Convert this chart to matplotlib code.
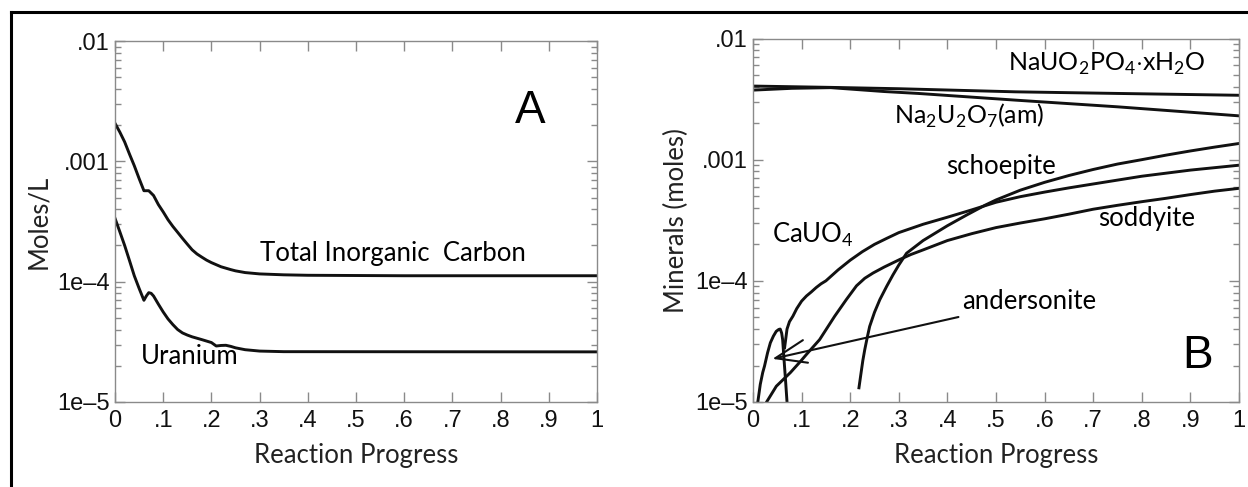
import matplotlib
matplotlib.use("Agg")
import matplotlib.pyplot as plt
from matplotlib.ticker import LogLocator, FixedLocator, NullFormatter
from matplotlib.lines import Line2D

plt.rcParams['mathtext.fontset'] = 'custom'
plt.rcParams['mathtext.rm'] = 'Lato'

# ---------------- Data: panel A ----------------
tic_x = [0, 0.01, 0.02, 0.03, 0.04, 0.05, 0.06, 0.07, 0.08, 0.09, 0.10, 0.11, 0.12, 0.13, 0.14, 0.15,
         0.16, 0.17, 0.18, 0.19, 0.20, 0.22, 0.24, 0.25, 0.27, 0.30, 0.35, 0.40, 0.60, 1.0]
tic_y = [2.07e-3, 1.75e-3, 1.45e-3, 1.15e-3, 9.2e-4, 7.2e-4, 5.7e-4, 5.7e-4, 5.2e-4, 4.37e-4, 3.8e-4,
         3.27e-4, 2.88e-4, 2.57e-4, 2.29e-4, 2.05e-4, 1.84e-4, 1.70e-4, 1.60e-4, 1.51e-4, 1.44e-4,
         1.33e-4, 1.26e-4, 1.23e-4, 1.19e-4, 1.16e-4, 1.14e-4, 1.13e-4, 1.12e-4, 1.12e-4]

u_x = [0, 0.01, 0.02, 0.03, 0.04, 0.05, 0.06, 0.065, 0.07, 0.075, 0.08, 0.09, 0.10, 0.11, 0.12, 0.13,
       0.14, 0.15, 0.16, 0.18, 0.20, 0.21, 0.22, 0.23, 0.24, 0.25, 0.27, 0.30, 0.35, 1.0]
u_y = [3.36e-4, 2.6e-4, 2.0e-4, 1.5e-4, 1.12e-4, 8.8e-5, 7.0e-5, 7.6e-5, 8.1e-5, 8.0e-5, 7.6e-5, 6.5e-5,
       5.6e-5, 4.9e-5, 4.4e-5, 4.0e-5, 3.75e-5, 3.6e-5, 3.48e-5, 3.3e-5, 3.12e-5, 2.92e-5, 2.95e-5,
       2.96e-5, 2.9e-5, 2.82e-5, 2.72e-5, 2.65e-5, 2.62e-5, 2.61e-5]

# ---------------- Data: panel B ----------------
naup_x = [0, 0.08, 0.16, 0.30, 0.54, 0.75, 1.0]
naup_y = [4.05e-3, 4.0e-3, 3.95e-3, 3.85e-3, 3.63e-3, 3.52e-3, 3.4e-3]

nau_x = [0, 0.08, 0.16, 0.27, 0.34, 0.54, 0.75, 1.0]
nau_y = [3.75e-3, 3.88e-3, 3.93e-3, 3.65e-3, 3.52e-3, 3.1e-3, 2.73e-3, 2.3e-3]

cau_x = [0.065, 0.07, 0.075, 0.082, 0.09, 0.10, 0.11, 0.12, 0.13, 0.14, 0.15, 0.175, 0.20, 0.225, 0.25,
         0.275, 0.30, 0.35, 0.40, 0.45, 0.50, 0.55, 0.60, 0.65, 0.70, 0.80, 0.90, 1.0]
cau_y = [2.8e-5, 4.0e-5, 4.6e-5, 5.1e-5, 5.9e-5, 6.8e-5, 7.5e-5, 8.1e-5, 8.8e-5, 9.45e-5, 1.0e-4, 1.23e-4,
         1.48e-4, 1.74e-4, 2.0e-4, 2.24e-4, 2.5e-4, 2.93e-4, 3.35e-4, 3.85e-4, 4.45e-4, 4.95e-4, 5.4e-4,
         5.85e-4, 6.3e-4, 7.3e-4, 8.2e-4, 9.0e-4]

sod_x = [0.028, 0.048, 0.077, 0.098, 0.11, 0.137, 0.168, 0.192, 0.213, 0.23, 0.247, 0.27, 0.302, 0.325,
         0.35, 0.40, 0.45, 0.50, 0.55, 0.60, 0.65, 0.70, 0.75, 0.80, 0.85, 0.90, 0.95, 1.0]
sod_y = [1.0e-5, 1.35e-5, 1.75e-5, 2.17e-5, 2.47e-5, 3.27e-5, 5.1e-5, 7.0e-5, 9.1e-5, 1.05e-4, 1.16e-4,
         1.3e-4, 1.5e-4, 1.65e-4, 1.8e-4, 2.15e-4, 2.45e-4, 2.75e-4, 3.0e-4, 3.25e-4, 3.55e-4, 3.9e-4,
         4.2e-4, 4.5e-4, 4.8e-4, 5.15e-4, 5.5e-4, 5.8e-4]

sch_x = [0.218, 0.222, 0.226, 0.23, 0.235, 0.24, 0.25, 0.261, 0.275, 0.288, 0.30, 0.316, 0.35, 0.40,
         0.44, 0.477, 0.50, 0.55, 0.60, 0.65, 0.70, 0.75, 0.80, 0.85, 0.90, 0.95, 1.0]
sch_y = [1.31e-5, 1.7e-5, 2.2e-5, 2.71e-5, 3.4e-5, 4.2e-5, 5.5e-5, 7.0e-5, 9.0e-5, 1.12e-4, 1.35e-4,
         1.69e-4, 2.15e-4, 2.85e-4, 3.5e-4, 4.2e-4, 4.65e-4, 5.6e-4, 6.5e-4, 7.4e-4, 8.3e-4, 9.2e-4,
         1.0e-3, 1.09e-3, 1.18e-3, 1.27e-3, 1.36e-3]

and_x = [0.0099, 0.015, 0.02, 0.0237, 0.03, 0.0357, 0.042, 0.0478, 0.053, 0.056, 0.059, 0.061, 0.064,
         0.067, 0.070]
and_y = [1.0e-5, 1.4e-5, 1.75e-5, 1.98e-5, 2.55e-5, 3.08e-5, 3.5e-5, 3.83e-5, 3.97e-5, 4.0e-5, 3.7e-5,
         3.27e-5, 2.2e-5, 1.5e-5, 1.0e-5]

x_ticks = [0, 0.1, 0.2, 0.3, 0.4, 0.5, 0.6, 0.7, 0.8, 0.9, 1.0]
x_ticklabels = ['0', '.1', '.2', '.3', '.4', '.5', '.6', '.7', '.8', '.9', '1']
y_ticks = [1e-5, 1e-4, 1e-3, 1e-2]
y_ticklabels = ['1e\u20135', '1e\u20134', '.001', '.01']

# ---------------- Figure ----------------
W, H = 1248, 487
fig = plt.figure(figsize=(W / 100, H / 100), dpi=100)

tick_font = dict(family='Liberation Sans', size=17)
label_font = 'Lato'
txt_size = 18.5
grey = '#8a8a8a'
ink = '#111111'
lw = 2.1


def style_axes(ax):
    ax.set_yscale('log')
    ax.set_xlim(0, 1)
    ax.set_ylim(1e-5, 1e-2)
    ax.xaxis.set_major_locator(FixedLocator(x_ticks))
    ax.set_xticklabels(x_ticklabels, fontdict=tick_font)
    ax.yaxis.set_major_locator(FixedLocator(y_ticks))
    ax.set_yticklabels(y_ticklabels, fontdict=tick_font)
    ax.yaxis.set_minor_locator(LogLocator(base=10, subs=[2, 3, 4, 5, 6, 7, 8, 9]))
    ax.yaxis.set_minor_formatter(NullFormatter())
    ax.tick_params(which='both', direction='in', top=True, right=True, color=grey, width=1)
    ax.tick_params(which='major', length=7, labelcolor=ink)
    ax.tick_params(axis='x', which='major', pad=6)
    ax.tick_params(axis='y', which='major', pad=4)
    ax.tick_params(which='minor', length=4)
    for s in ax.spines.values():
        s.set_color(grey)
        s.set_linewidth(1.0)
    ax.set_xlabel('Reaction Progress', family=label_font, fontsize=txt_size, labelpad=8, color='#222222')


axA = fig.add_axes([115 / W, 1 - 402 / H, 482 / W, 361 / H])
style_axes(axA)
axA.plot(tic_x, tic_y, color=ink, lw=lw)
axA.plot(u_x, u_y, color=ink, lw=lw)
axA.set_ylabel('Moles/L', family=label_font, fontsize=txt_size, labelpad=4, color='#222222')
axA.text(0.30, 1.7e-4, 'Total Inorganic  Carbon', family=label_font, fontsize=txt_size, ha='left', va='center')
axA.text(0.054, 2.4e-5, 'Uranium', family=label_font, fontsize=txt_size, ha='left', va='center')
axA.text(0.861, 2.6e-3, 'A', family='Liberation Sans', fontsize=33, ha='center', va='center')

axB = fig.add_axes([753 / W, 1 - 402 / H, 486 / W, 363.5 / H])
style_axes(axB)
for xs, ys in [(naup_x, naup_y), (nau_x, nau_y), (cau_x, cau_y), (sod_x, sod_y), (sch_x, sch_y), (and_x, and_y)]:
    axB.plot(xs, ys, color=ink, lw=lw)
axB.set_ylabel('Minerals (moles)', family=label_font, fontsize=txt_size, labelpad=4, color='#222222')

axB.text(0.728, 6.2e-3, r'NaUO$_\mathregular{2}$PO$_\mathregular{4}$$\cdot$xH$_\mathregular{2}$O',
         family=label_font, fontsize=18, ha='center', va='center')
axB.text(0.444, 2.3e-3, r'Na$_\mathregular{2}$U$_\mathregular{2}$O$_\mathregular{7}$(am)',
         family=label_font, fontsize=18, ha='center', va='center')
axB.text(0.51, 8.8e-4, 'schoepite', family=label_font, fontsize=txt_size, ha='center', va='center')
axB.text(0.809, 3.3e-4, 'soddyite', family=label_font, fontsize=txt_size, ha='center', va='center')
axB.text(0.123, 2.4e-4, r'CaUO$_\mathregular{4}$', family=label_font, fontsize=txt_size, ha='center', va='center')
axB.annotate('andersonite', xy=(0.04, 2.27e-5), xytext=(0.43, 6.8e-5),
             family=label_font, fontsize=txt_size, ha='left', va='center',
             arrowprops=dict(arrowstyle='->,head_length=1.2,head_width=0.45', color=ink, lw=1.5,
                             shrinkA=2, shrinkB=0))
axB.text(0.915, 2.4e-5, 'B', family='Liberation Sans', fontsize=33, ha='center', va='center')

# outer frame
fig.add_artist(Line2D([11 / W, 11 / W], [0, 1 - 12 / H], transform=fig.transFigure, color='black', lw=2.2))
fig.add_artist(Line2D([11 / W, 1], [1 - 12 / H, 1 - 12 / H], transform=fig.transFigure, color='black', lw=2.2))

fig.savefig('out.png', dpi=100)
